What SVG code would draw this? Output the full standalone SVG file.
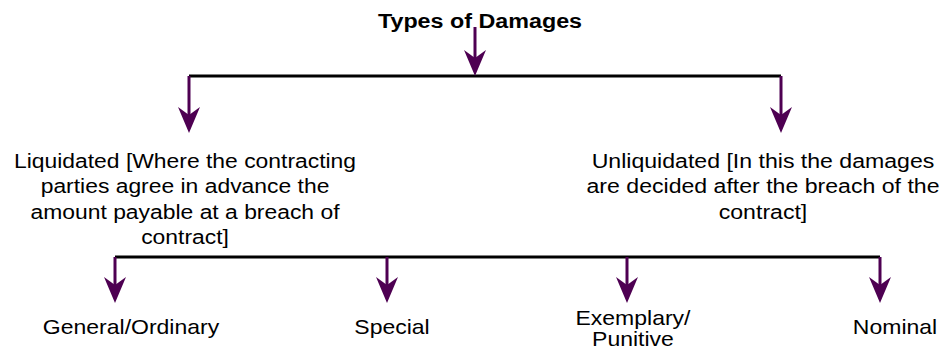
<svg xmlns="http://www.w3.org/2000/svg" width="943" height="350" viewBox="0 0 943 350">
<style>
text{font-family:"Liberation Sans",Arial,sans-serif;fill:#000;text-anchor:middle}
.t{font-size:21px;font-weight:bold}
.d{font-size:21px}
.l{font-size:20px}
.h{stroke:#000;stroke-width:3;fill:none}
.v{stroke:#4e0052;stroke-width:3;fill:none}
.a{fill:#4e0052}
</style>
<defs>
<path id="ah" d="M0,0 L-11,-26 L0,-18 L11,-26 Z"/>
</defs>
<rect width="943" height="350" fill="#fff"/>
<g id="connectors">
<path class="h" d="M189,76 H781"/>
<path class="h" d="M115,257 H880"/>
<path class="v" d="M475,27 V60"/><use href="#ah" class="a" x="475" y="76"/>
<path class="v" d="M189,76 V116"/><use href="#ah" class="a" x="189" y="133"/>
<path class="v" d="M781,76 V116"/><use href="#ah" class="a" x="781" y="133"/>
<path class="v" d="M115,257 V286"/><use href="#ah" class="a" x="115" y="303"/>
<path class="v" d="M387,257 V286"/><use href="#ah" class="a" x="387" y="303"/>
<path class="v" d="M627,257 V286"/><use href="#ah" class="a" x="627" y="303"/>
<path class="v" d="M880,257 V286"/><use href="#ah" class="a" x="880" y="303"/>
</g>
<g id="root" transform="translate(480,0) scale(1.11,1)"><text class="t" x="0" y="28">Types of Damages</text></g>
<g id="liquidated" transform="translate(185,0) scale(1.09,1)"><text class="d" x="0" y="168">Liquidated [Where the contracting<tspan x="0" y="193.5">parties agree in advance the</tspan><tspan x="0" y="219">amount payable at a breach of</tspan><tspan x="0" y="244.5">contract]</tspan></text></g>
<g id="unliquidated" transform="translate(763,0) scale(1.1,1)"><text class="d" x="0" y="168">Unliquidated [In this the damages<tspan x="0" y="193.5">are decided after the breach of the</tspan><tspan x="0" y="219">contract]</tspan></text></g>
<g id="general" transform="translate(131,0) scale(1.15,1)"><text class="l" x="0" y="334">General/Ordinary</text></g>
<g id="special" transform="translate(392,0) scale(1.15,1)"><text class="l" x="0" y="334">Special</text></g>
<g id="exemplary" transform="translate(633,0) scale(1.15,1)"><text class="l" x="0" y="325">Exemplary/<tspan x="0" y="346">Punitive</tspan></text></g>
<g id="nominal" transform="translate(895,0) scale(1.15,1)"><text class="l" x="0" y="334">Nominal</text></g>
</svg>
